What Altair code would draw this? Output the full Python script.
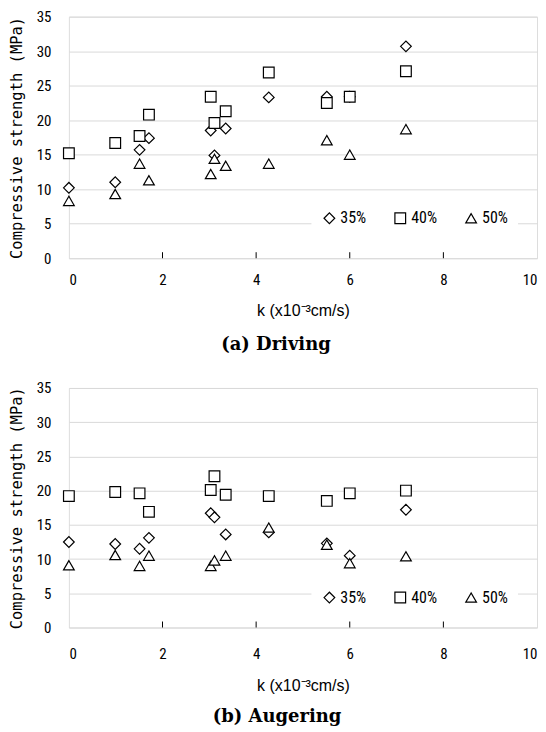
import altair as alt
import pandas as pd

# permeability coefficient k (x10^-3 cm/s)
k_values = [0.0, 0.99, 1.51, 1.71, 3.03, 3.11, 3.35, 4.27, 5.51, 6.0, 7.2]
series = ["35%", "40%", "50%"]

# (a) Driving
driving_35 = [10.2, 11.0, 15.7, 17.4, 18.5, 14.9, 18.8, 23.3, 23.4, 23.4, 30.7]
driving_40 = [15.2, 16.7, 17.7, 20.8, 23.4, 19.6, 21.3, 26.9, 22.5, 23.4, 27.1]
driving_50 = [8.3, 9.3, 13.7, 11.3, 12.2, 14.4, 13.4, 13.7, 17.1, 15.0, 18.7]

# (b) Augering
auger_35 = [12.5, 12.2, 11.5, 13.1, 16.7, 16.1, 13.6, 13.9, 12.3, 10.5, 17.2]
auger_40 = [19.2, 19.8, 19.6, 16.9, 20.1, 22.1, 19.4, 19.2, 18.5, 19.6, 20.0]
auger_50 = [9.1, 10.6, 9.0, 10.5, 9.0, 9.8, 10.5, 14.6, 12.1, 9.4, 10.4]

x_ticks = [0, 2, 4, 6, 8, 10]
y_ticks = [0, 5, 10, 15, 20, 25, 30, 35]
inner_ticks = [2, 4, 6, 8]

LABEL_FONT = "Liberation Sans Narrow, Roboto Condensed, Liberation Sans"
MONO = "DejaVu Sans Mono"
SANS = "Liberation Sans"
SERIF = "DejaVu Serif"


def long_df(a, b, c):
    rows = []
    for s, vals in zip(series, (a, b, c)):
        for kk, v in zip(k_values, vals):
            rows.append({"k": kk, "strength": v, "series": s})
    return pd.DataFrame(rows)


def x_axis(lab_pad, title_pad):
    return alt.Axis(values=x_ticks, title="k (x10⁻³cm/s)", grid=False,
                    ticks=False, domain=False, labelFont=LABEL_FONT,
                    labelFontSize=15, labelColor="black", labelPadding=lab_pad,
                    titleFont=SANS, titleFontSize=16,
                    titleFontWeight="normal", titleColor="black",
                    titlePadding=title_pad)


def legend(lx, ly):
    return alt.Legend(title=None, orient="none", legendX=lx, legendY=ly,
                      direction="horizontal", fillColor="white", padding=10,
                      labelFont=LABEL_FONT, labelFontSize=16, labelColor="black",
                      labelOffset=3, columnPadding=26, symbolSize=115,
                      symbolFillColor="white", symbolStrokeColor="black",
                      symbolStrokeWidth=1.2)


def panel(df, caption, w, h, lx, ly, xlab_pad, xtitle_pad, cap_off, dx):
    points = alt.Chart(df).mark_point(
        filled=False, fill="white", strokeWidth=1.2, size=115, opacity=1,
        fillOpacity=1
    ).encode(
        x=alt.X("k:Q", scale=alt.Scale(domain=[0, 10], nice=False),
                axis=x_axis(xlab_pad, xtitle_pad)),
        y=alt.Y("strength:Q", scale=alt.Scale(domain=[0, 35], nice=False),
                axis=alt.Axis(values=y_ticks, title="Compressive strength (MPa)",
                              grid=True, gridColor="#d9d9d9", ticks=False,
                              domain=False, labelFont=LABEL_FONT, labelFontSize=15,
                              labelColor="black", labelPadding=18,
                              titleFont=MONO, titleFontSize=15.5,
                              titleFontWeight="normal", titleColor="black",
                              titlePadding=12)),
        shape=alt.Shape("series:N",
                        scale=alt.Scale(domain=series,
                                        range=["diamond", "square", "triangle-up"]),
                        legend=legend(lx, ly)),
        color=alt.Color("series:N",
                        scale=alt.Scale(domain=series,
                                        range=["black", "black", "black"]),
                        legend=legend(lx, ly)),
    )
    ticks = alt.Chart(pd.DataFrame({"k": inner_ticks})).mark_rule(
        color="black", strokeWidth=1
    ).encode(
        x=alt.X("k:Q", axis=x_axis(xlab_pad, xtitle_pad)),
        y=alt.value(h),
        y2=alt.value(h - 6),
    )
    return alt.layer(points, ticks).properties(
        width=w, height=h,
        title=alt.TitleParams(caption, orient="bottom", anchor="middle",
                              font=SERIF, fontSize=18, fontWeight="bold",
                              color="black", offset=cap_off, dx=dx),
    )


top = panel(long_df(driving_35, driving_40, driving_50), "(a) Driving",
            469, 242, 243, 184, 14, 15, 18, -27)
bottom = panel(long_df(auger_35, auger_40, auger_50), "(b) Augering",
               469, 240, 243, 192, 19, 16, 15, -26)

chart = alt.concat(top, bottom, columns=1, spacing=25).resolve_legend(
    shape="independent", color="independent"
).properties(
    padding={"left": 0, "top": 0, "right": 0, "bottom": 0}
).configure_view(stroke="black", strokeWidth=1).configure(background="white")

chart.save("out.html", embed_options={"renderer": "svg", "actions": False})
